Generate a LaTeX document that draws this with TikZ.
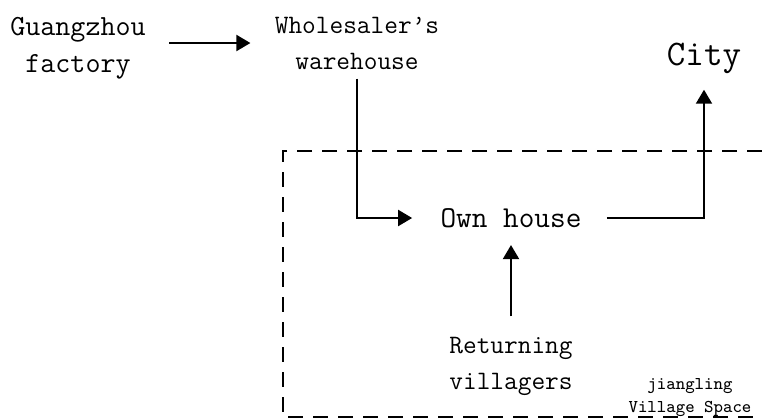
\documentclass[tikz,border=0pt]{standalone}
\usepackage{fontspec}
\usepackage{tikz}
\usetikzlibrary{arrows.meta,positioning}
\tikzset{
  >={Triangle[length=7pt,width=8pt]},
  every node/.style={font=\ttfamily,text=black},
  place/.style={align=center,inner sep=0pt,font=\ttfamily\fontsize{13.3}{18}\selectfont},
  wideplace/.style={place,font=\ttfamily\fontsize{14.6}{18.5}\selectfont},
  bigplace/.style={place,font=\ttfamily\fontsize{18}{22}\selectfont},
  midplace/.style={place,font=\ttfamily\fontsize{15.2}{18}\selectfont},
  areatag/.style={place,font=\ttfamily\fontsize{9}{11.5}\selectfont},
  flow/.style={->,line width=1pt,draw=black},
  border/.style={line width=1pt,dash pattern=on 7.5pt off 5pt}
}

\begin{document}
\begin{tikzpicture}[x=0.5pt,y=-0.5pt]
  \useasboundingbox (0,0) rectangle (762,419);
  % village boundary, open on the right
  \draw[border] (762,151) -- (283,151) -- (283,417) -- (762,417);

  \node[wideplace] (factory) at (78,48) {Guangzhou\\factory};
  \node[place] (warehouse) at (357,43) {Wholesaler’s\\warehouse};
  \node[bigplace] (city) at (704,58) {City};
  \node[midplace] (house) at (511,218) {Own house};
  \node[place] (villagers) at (511,366) {Returning\\villagers};
  \node[areatag] (area) at (690,398) {jiangling\\Village Space};

  \draw[flow,shorten <=11.5pt,shorten >=12pt] (warehouse.west -| factory.east) -- (warehouse.west);
  \draw[flow,shorten <=4.5pt,shorten >=14pt] (warehouse.south) |- (house.west);
  \draw[flow,shorten <=12.5pt,shorten >=8pt] (house.east) -| (city.south);
  \draw[flow,shorten <=10pt,shorten >=8.5pt] (villagers.north) -- (house.south);
\end{tikzpicture}
\end{document}
